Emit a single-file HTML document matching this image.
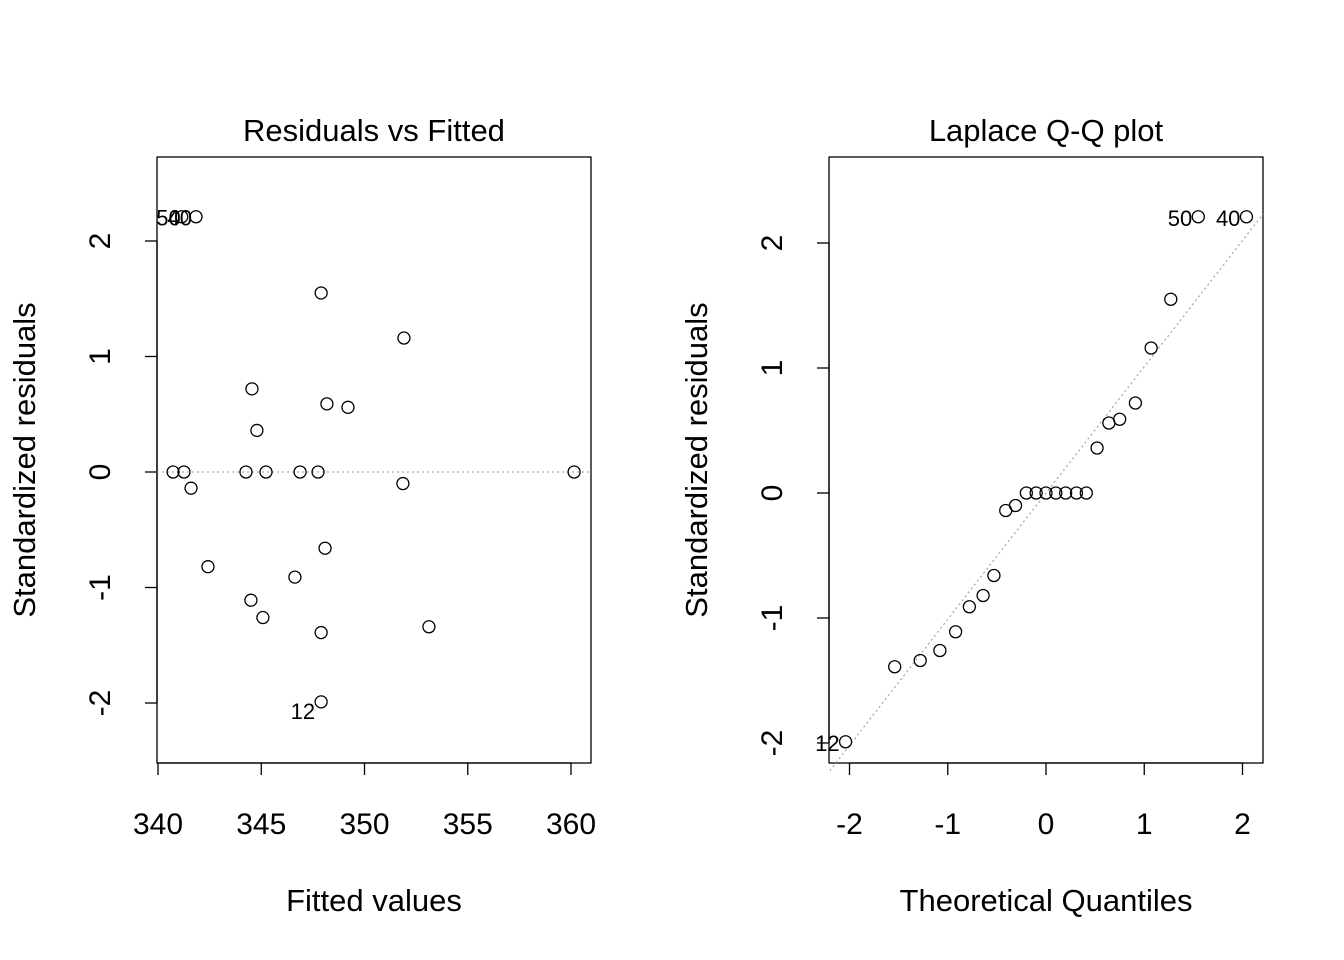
<!DOCTYPE html>
<html><head><meta charset="utf-8"><style>
html,body{margin:0;padding:0;background:#fff}
svg{display:block;font-family:"Liberation Sans",Arial,sans-serif}
</style></head><body>
<svg id="c" width="1344" height="960"></svg>
<script>
const fitted=[340.73,341.26,341.15,341.84,341.6,342.42,344.55,344.79,344.26,345.23,344.5,345.08,346.88,347.75,347.9,348.18,349.2,348.09,346.63,347.9,347.9,351.91,351.86,353.12,360.15];
const resid=[0,0,2.21,2.21,-0.14,-0.82,0.72,0.36,0,0,-1.11,-1.26,0,0,1.55,0.59,0.56,-0.66,-0.91,-1.39,-1.99,1.16,-0.10,-1.34,0];
const leftLabels=[{i:2,t:"50",dx:-1,dy:9},{i:3,t:"40",dx:-4,dy:9},{i:20,t:"12",dx:-6,dy:17}];
const theo=[-2.04,-1.54,-1.28,-1.08,-0.92,-0.78,-0.64,-0.53,-0.41,-0.31,-0.20,-0.10,0,0.10,0.20,0.31,0.41,0.52,0.64,0.75,0.91,1.07,1.27,1.55,2.04];
const sortedRes=[-1.99,-1.39,-1.34,-1.26,-1.11,-0.91,-0.82,-0.66,-0.14,-0.10,0,0,0,0,0,0,0,0.36,0.56,0.59,0.72,1.16,1.55,2.21,2.21];
const qqLabels=[{i:0,t:"12"},{i:23,t:"50"},{i:24,t:"40"}];
const xTicksL=[340,345,350,355,360];
const yTicks=[-2,-1,0,1,2];
const xTicksR=[-2,-1,0,1,2];
const qqSlope=1.01;

const svg=document.getElementById('c');
const NS='http://www.w3.org/2000/svg';
function mk(tag,attrs,name,parent){
  const e=document.createElementNS(NS,tag);
  for(const k in attrs)e.setAttribute(k,attrs[k]);
  
  
  (parent||svg).appendChild(e);return e;
}
function txt(x,y,s,size,name,extra){
  const e=mk('text',Object.assign({x:x,y:y,'font-size':size,'text-anchor':'middle',fill:'#000'},extra||{}),name);
  e.textContent=s;return e;
}
function panel(o){
  const g=mk('g',{},o.name);
  const sx=v=>o.x0+(v-o.xv0)*o.xs, sy=v=>o.y0-v*o.ys;
  mk('rect',{x:o.bx,y:157,width:434,height:606,fill:'none',stroke:'#000','stroke-width':1.3},o.name+'-box',g);
  mk('line',{x1:sx(o.xt[0]),y1:763,x2:sx(o.xt[o.xt.length-1]),y2:763,stroke:'#000','stroke-width':1.3},'x-axis-line',g);
  o.xt.forEach(t=>{
    mk('line',{x1:sx(t),y1:763,x2:sx(t),y2:775,stroke:'#000','stroke-width':1.3},'x-tick',g);
    txt(sx(t),834,String(t),30,'x-tick-label');
  });
  mk('line',{x1:o.bx,y1:sy(-2),x2:o.bx,y2:sy(2),stroke:'#000','stroke-width':1.3},'y-axis-line',g);
  yTicks.forEach(t=>{
    mk('line',{x1:o.bx,y1:sy(t),x2:o.bx-12,y2:sy(t),stroke:'#000','stroke-width':1.3},'y-tick',g);
    txt(o.bx-57,sy(t),String(t),30,'y-tick-label',{transform:`rotate(-90 ${o.bx-57} ${sy(t)})`}).setAttribute('dy','10');
  });
  txt(o.bx+217,141,o.title,31,'chart-title');
  txt(o.bx+217,911,o.xlab,31,'x-axis-title');
  txt(o.bx-132,460,'Standardized residuals',31,'y-axis-title',{transform:`rotate(-90 ${o.bx-132} 460)`}).setAttribute('dy','10');
  return {sx,sy,g};
}
const L=panel({name:'residuals-vs-fitted',bx:157,x0:158,xv0:340,xs:20.65,y0:472,ys:115.5,xt:xTicksL,title:'Residuals vs Fitted',xlab:'Fitted values'});
mk('line',{x1:157,y1:L.sy(0),x2:591,y2:L.sy(0),stroke:'#aaa','stroke-width':1.3,'stroke-dasharray':'2 3'},'zero-line');
fitted.forEach((f,i)=>{mk('circle',{cx:L.sx(f),cy:L.sy(resid[i]),r:6,fill:'none',stroke:'#000','stroke-width':1.3},'residual-point');});
leftLabels.forEach(l=>{txt(L.sx(fitted[l.i])+l.dx,L.sy(resid[l.i])+l.dy,l.t,22,'point-label',{'text-anchor':'end'});});
const R=panel({name:'laplace-qq-plot',bx:829,x0:1046,xv0:0,xs:98.25,y0:493,ys:125,xt:xTicksR,title:'Laplace Q-Q plot',xlab:'Theoretical Quantiles'});
mk('line',{x1:R.sx(-2.2),y1:R.sy(-2.2*qqSlope),x2:R.sx(2.21),y2:R.sy(2.21*qqSlope),stroke:'#aaa','stroke-width':1.3,'stroke-dasharray':'2 3'},'qq-line');
theo.forEach((q,i)=>{mk('circle',{cx:R.sx(q),cy:R.sy(sortedRes[i]),r:6,fill:'none',stroke:'#000','stroke-width':1.3},'qq-point');});
qqLabels.forEach(l=>{txt(R.sx(theo[l.i])-6,R.sy(sortedRes[l.i])+9,l.t,22,'point-label',{'text-anchor':'end'});});
</script>
</body></html>
